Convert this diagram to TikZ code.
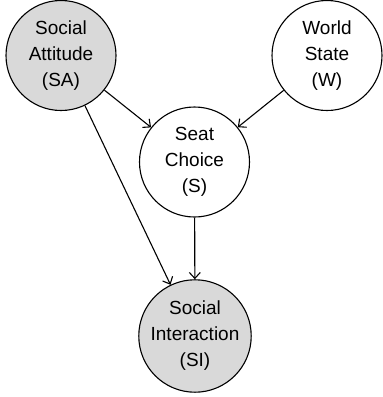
\documentclass[tikz,border=0pt]{standalone}
\usepackage{fontspec}
\setmainfont{Liberation Sans}
\usetikzlibrary{arrows.meta}

\begin{document}
\begin{tikzpicture}[x=1pt, y=-1pt,
  every node/.style={align=center},
  var/.style={circle, draw, line width=1.1pt, minimum size=110pt, inner sep=0pt,
    font=\fontsize{19}{26}\selectfont},
  obs/.style={var, fill=black!15},
  edge/.style={line width=1.1pt, -{Straight Barb[length=6pt,width=11pt]}}]

\useasboundingbox (0,0) rectangle (383,397);

  % observed variables
  \node[obs] (sa) at (61,55.5) {Social\\Attitude\\(SA)};
  \node[obs] (si) at (195,336) {Social\\Interaction\\(SI)};

  % latent variables
  \node[var] (w) at (327,55.5) {World\\State\\(W)};
  \node[var] (s) at (194.5,162) {Seat\\Choice\\(S)};

  % dependencies
  \draw[edge] (sa) -- (s);
  \draw[edge] (w) -- (s);
  \draw[edge] (sa) -- (si);
  \draw[edge] (s) -- (si);

\end{tikzpicture}
\end{document}
